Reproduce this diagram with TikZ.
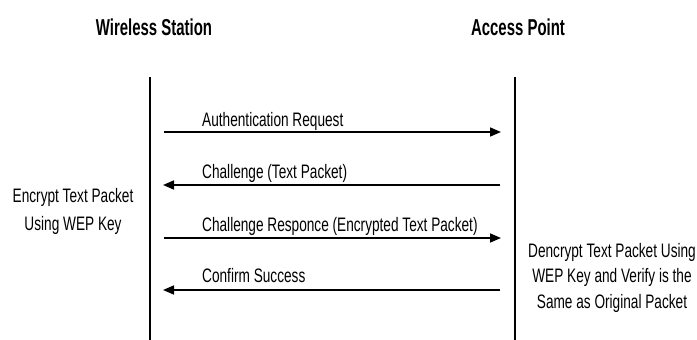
\documentclass[tikz,border=0pt]{standalone}
\usepackage{fontspec}
\setmainfont[FakeStretch=0.7]{Liberation Sans}
\newfontfamily\hdfont[FakeStretch=0.65]{Liberation Sans}
\usetikzlibrary{arrows.meta}
\begin{document}
\begin{tikzpicture}[x=1pt,y=-1pt,
  head/.style={font=\hdfont\fontsize{23}{25}\selectfont\bfseries, anchor=base, inner sep=0pt},
  msg/.style={font=\fontsize{19.5}{21}\selectfont, anchor=base west, inner sep=0pt},
  note/.style={font=\fontsize{19.5}{21}\selectfont, align=center, inner sep=0pt, anchor=base},
  life/.style={line width=2.8pt},
  arr/.style={line width=1.6pt, -{Triangle[length=11pt,width=9pt]}}]
\useasboundingbox (0,0) rectangle (697,340);
\node[head] (ws) at (154,35) {Wireless Station};
\node[head] (ap) at (518,35) {Access Point};
\coordinate (wsT) at (150,77); \coordinate (wsB) at (150,340);
\coordinate (apT) at (515,77); \coordinate (apB) at (515,340);
\draw[life] (wsT) -- (wsB);
\draw[life] (apT) -- (apB);
\coordinate (a1s) at (164,132); \coordinate (a1e) at (501,132);
\coordinate (a2s) at (500,185); \coordinate (a2e) at (163,185);
\coordinate (a3s) at (164,238); \coordinate (a3e) at (501,238);
\coordinate (a4s) at (500,290); \coordinate (a4e) at (163,290);
\draw[arr] (a1s) -- (a1e);
\draw[arr] (a2s) -- (a2e);
\draw[arr] (a3s) -- (a3e);
\draw[arr] (a4s) -- (a4e);
\node[msg] (m1) at (202,126) {Authentication Request};
\node[msg] (m2) at (202,178) {Challenge (Text Packet)};
\node[msg] (m3) at (202,231) {Challenge Responce (Encrypted Text Packet)};
\node[msg] (m4) at (202,282) {Confirm Success};
\node[note, font=\fontsize{19.5}{28}\selectfont] (n1) at (73,230) {Encrypt Text Packet\\Using WEP Key};
\node[note, font=\fontsize{19.5}{25.5}\selectfont] (n2) at (612,308) {Dencrypt Text Packet Using\\WEP Key and Verify is the\\Same as Original Packet};
\end{tikzpicture}
\end{document}
